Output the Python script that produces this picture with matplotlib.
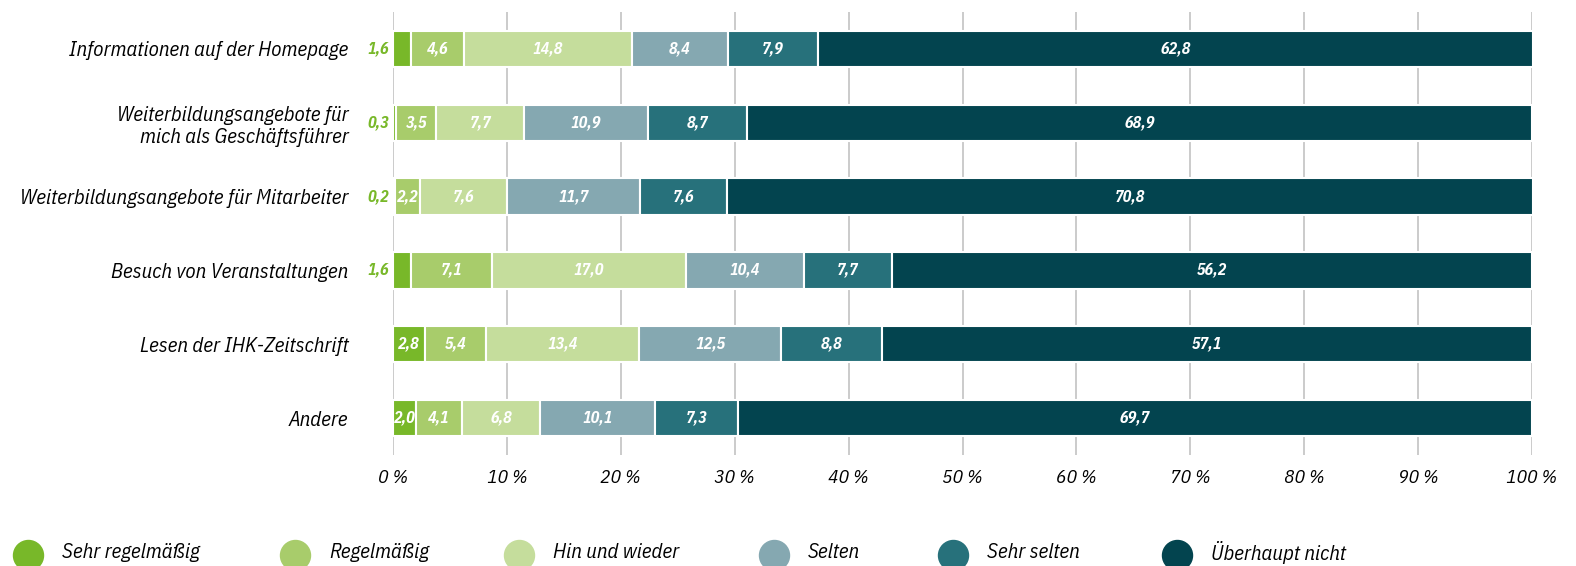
import matplotlib
matplotlib.use("Agg")
import matplotlib.pyplot as plt
from matplotlib.lines import Line2D
from matplotlib import font_manager

names = {f.name for f in font_manager.fontManager.ttflist}
base = next((n for n in ["IBM Plex Sans Condensed", "Roboto Condensed", "Liberation Sans"]
             if n in names), "DejaVu Sans")
plt.rcParams["font.family"] = [base, "DejaVu Sans"]
plt.rcParams["font.style"] = "italic"

categories = [
    "Informationen auf der Homepage",
    "Weiterbildungsangebote für\nmich als Geschäftsführer",
    "Weiterbildungsangebote für Mitarbeiter",
    "Besuch von Veranstaltungen",
    "Lesen der IHK-Zeitschrift",
    "Andere",
]
series_names = ["Sehr regelmäßig", "Regelmäßig", "Hin und wieder",
                "Selten", "Sehr selten", "Überhaupt nicht"]
sehr_regelmaessig = [1.6, 0.3, 0.2, 1.6, 2.8, 2.0]
regelmaessig = [4.6, 3.5, 2.2, 7.1, 5.4, 4.1]
hin_und_wieder = [14.8, 7.7, 7.6, 17.0, 13.4, 6.8]
selten = [8.4, 10.9, 11.7, 10.4, 12.5, 10.1]
sehr_selten = [7.9, 8.7, 7.6, 7.7, 8.8, 7.3]
ueberhaupt_nicht = [62.8, 68.9, 70.8, 56.2, 57.1, 69.7]
tick_values = list(range(0, 101, 10))
tick_labels = [f"{v}\u2009%" for v in tick_values]

colors = ["#78b829", "#a8cc6b", "#c5dd9c", "#85a8b1", "#27717b", "#03444f"]
series = [sehr_regelmaessig, regelmaessig, hin_und_wieder,
          selten, sehr_selten, ueberhaupt_nicht]

W, H = 1576, 566
fig = plt.figure(figsize=(W / 100, H / 100), dpi=100)
ax = fig.add_axes([393 / W, 1 - 455 / H, (1532 - 393) / W, 443 / H])

y = list(range(len(categories)))
left = [0.0] * len(categories)
for vals, col in zip(series, colors):
    ax.barh(y, vals, left=left, height=0.49, color=col,
            edgecolor="white", linewidth=1.5, zorder=3)
    for i, v in enumerate(vals):
        txt = f"{v:.1f}".replace(".", ",")
        if col == colors[0] and v < 2.0:
            ax.annotate(txt, xy=(0, i), xytext=(-4, 0), textcoords="offset pixels",
                        ha="right", va="center", color=colors[0], fontsize=11.5,
                        fontweight="bold")
        else:
            ax.text(left[i] + v / 2, i, txt, ha="center", va="center",
                    color="white", fontsize=11.5, fontweight="bold", zorder=4)
    left = [l + v for l, v in zip(left, vals)]

ax.set_xlim(0, 100)
ax.set_ylim(len(categories) - 0.5, -0.5)
ax.set_yticks(y)
ax.set_yticklabels(categories, fontsize=15, ha="right", linespacing=1.2)
ax.set_xticks(tick_values)
ax.set_xticklabels(tick_labels, fontsize=14)
ax.tick_params(axis="y", length=0, pad=32)
ax.tick_params(axis="x", length=0, pad=10)
ax.grid(axis="x", color="#bdbdbd", linewidth=1.1, zorder=0)
for s in ax.spines.values():
    s.set_visible(False)

# legend row: marker and label for each answer category
legend_x = [28, 295, 519, 774, 953, 1177]
legend_y = 1 - 555 / H
for lx, name, col in zip(legend_x, series_names, colors):
    fig.add_artist(Line2D([lx / W], [legend_y], transform=fig.transFigure,
                          marker="o", markersize=21.6, linestyle="none",
                          markerfacecolor=col, markeredgecolor=col))
    fig.text((lx + 34) / W, 1 - 553 / H, name, ha="left", va="center", fontsize=15)

fig.savefig("out.png", dpi=100)
